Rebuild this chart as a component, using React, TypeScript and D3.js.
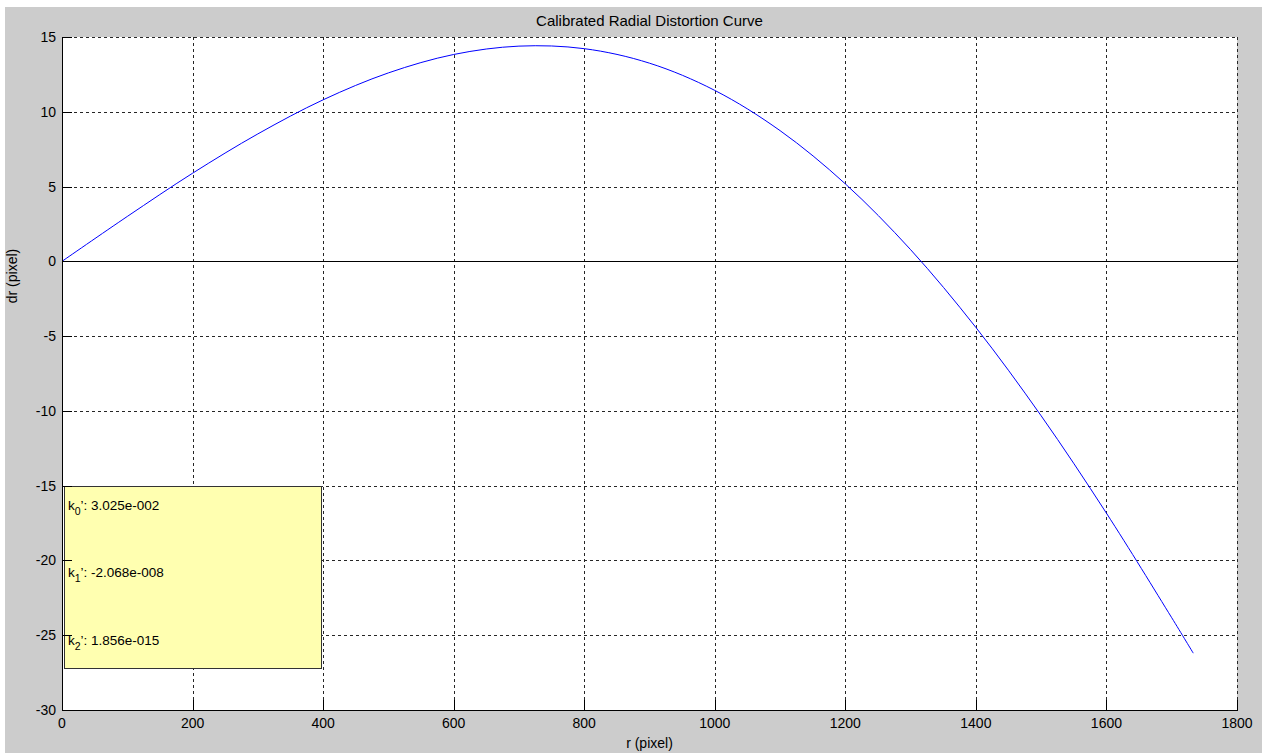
import React from "react";
import * as d3 from "d3";

const rValues = [0, 100, 200, 300, 400, 500, 600, 700, 800, 900, 1000, 1100, 1200, 1300, 1400, 1500, 1600, 1700, 1733];
const drValues = [0, 3.0, 5.89, 8.52, 10.8, 12.6, 13.83, 14.39, 14.22, 13.25, 11.43, 8.74, 5.18, 0.78, -4.42, -10.33, -16.84, -23.83, -26.2];
const xTicks = [0, 200, 400, 600, 800, 1000, 1200, 1400, 1600, 1800];
const yTicks = [15, 10, 5, 0, -5, -10, -15, -20, -25, -30];
const coeffLabels = [
  { sub: "0", value: "3.025e-002" },
  { sub: "1", value: "-2.068e-008" },
  { sub: "2", value: "1.856e-015" },
];

const W = 1262;
const H = 753;
const left = 62;
const right = 1237;
const top = 37;
const bottom = 710;
const FONT = "'Liberation Sans', Arial, sans-serif";

export default function App() {
  const x = d3.scaleLinear().domain([0, 1800]).range([left, right]);
  const y = d3.scaleLinear().domain([-30, 15]).range([bottom, top]);
  const pts = rValues.map((r, i) => [r, drValues[i]] as [number, number]);
  const line = d3
    .line<[number, number]>()
    .x((d) => x(d[0]))
    .y((d) => y(d[1]))
    .curve(d3.curveCatmullRom.alpha(0.5));

  const boxX0 = x(3);
  const boxX1 = x(396);
  const boxY0 = y(-15);
  const boxY1 = y(-27.2);

  return (
    <svg
      width={W}
      height={H}
      style={{ position: "absolute", left: 0, top: 0, display: "block" }}
      fontFamily={FONT}
    >
      <rect x={0} y={0} width={W} height={H} fill="#ffffff" />
      <rect x={5} y={7} width={W - 5} height={H - 7} fill="#cccccc" />
      <rect x={left} y={top} width={right - left} height={bottom - top} fill="#ffffff" />

      {/* grid */}
      {xTicks.filter((t) => t !== 0).map((t) => (
        <line
          key={"gx" + t}
          x1={Math.round(x(t)) + 0.5}
          x2={Math.round(x(t)) + 0.5}
          y1={top}
          y2={bottom}
          stroke="#262626"
          strokeWidth={1}
          strokeDasharray="3,3"
        />
      ))}
      {yTicks.filter((t) => t !== -30).map((t) => (
        <line
          key={"gy" + t}
          x1={left}
          x2={right}
          y1={Math.round(y(t)) + 0.5}
          y2={Math.round(y(t)) + 0.5}
          stroke="#262626"
          strokeWidth={1}
          strokeDasharray="3,3"
        />
      ))}

      {/* zero line */}
      <line x1={left} x2={right} y1={Math.round(y(0)) + 0.5} y2={Math.round(y(0)) + 0.5} stroke="#000" strokeWidth={1} />

      {/* curve */}
      <path d={line(pts) || ""} fill="none" stroke="#0000ff" strokeWidth={1} />

      {/* text box */}
      <rect
        x={Math.round(boxX0) + 0.5}
        y={Math.round(boxY0) + 0.5}
        width={Math.round(boxX1 - boxX0)}
        height={Math.round(boxY1 - boxY0)}
        fill="#ffffb0"
        stroke="#333"
        strokeWidth={1}
      />
      {coeffLabels.map((c, i) => (
        <text key={c.sub} x={boxX0 + 4} y={boxY0 + 24} dy={i * 67.5} fontSize={13.5} fill="#000">
          k
          <tspan fontSize={10.5} dy={5}>{c.sub}</tspan>
          <tspan dy={-5}>{"\u2019: " + c.value}</tspan>
        </text>
      ))}

      {/* axes lines */}
      <line x1={left + 0.5} x2={left + 0.5} y1={top} y2={bottom} stroke="#000" strokeWidth={1} />
      <line x1={left} x2={right + 1} y1={bottom + 0.5} y2={bottom + 0.5} stroke="#000" strokeWidth={1} />

      {/* ticks */}
      {xTicks.map((t) => (
        <g key={"tx" + t}>
          <line x1={Math.round(x(t)) + 0.5} x2={Math.round(x(t)) + 0.5} y1={bottom} y2={bottom - 10} stroke="#000" />
          <text x={x(t)} y={bottom + 18} fontSize={14} textAnchor="middle" fill="#000">
            {t}
          </text>
        </g>
      ))}
      {yTicks.map((t) => (
        <g key={"ty" + t}>
          <line x1={left} x2={left + 10} y1={Math.round(y(t)) + 0.5} y2={Math.round(y(t)) + 0.5} stroke="#000" />
          <text x={left - 6} y={y(t) + 5} fontSize={14} textAnchor="end" fill="#000">
            {t}
          </text>
        </g>
      ))}

      {/* labels */}
      <text x={(left + right) / 2} y={26} fontSize={15} textAnchor="middle" fill="#000">
        Calibrated Radial Distortion Curve
      </text>
      <text x={(left + right) / 2} y={748} fontSize={14} textAnchor="middle" fill="#000">
        r (pixel)
      </text>
      <text
        transform={`translate(17, ${276}) rotate(-90)`}
        fontSize={14}
        textAnchor="middle"
        fill="#000"
      >
        dr (pixel)
      </text>
    </svg>
  );
}
